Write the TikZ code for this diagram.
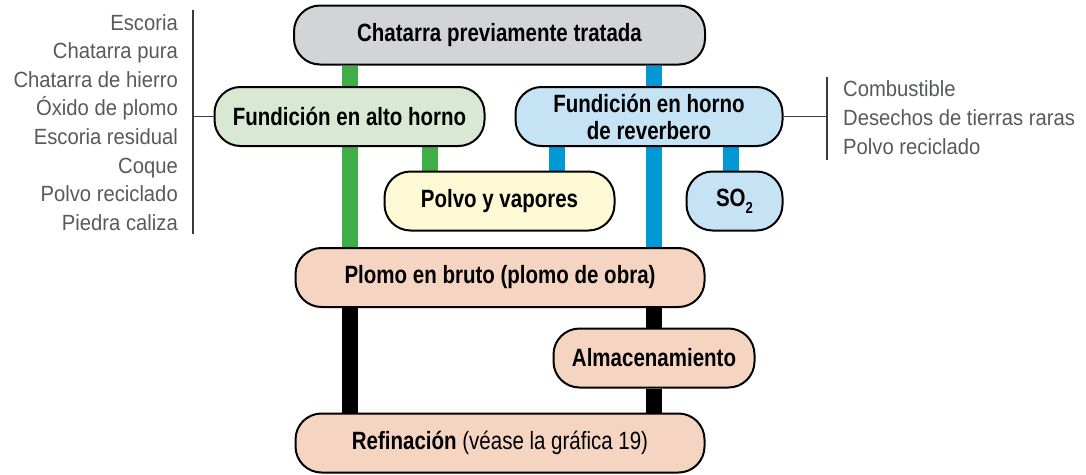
\documentclass[tikz,border=0pt]{standalone}
\usepackage{fontspec}
\setmainfont{Liberation Sans}
\newfontfamily\boxfont{Liberation Sans}[FakeStretch=0.82]
\newfontfamily\listfont{Liberation Sans}[FakeStretch=0.92]
\usepackage{tikz}
\usepackage{xcolor}

\definecolor{grisbox}{HTML}{D3D4D6}
\definecolor{verdebox}{HTML}{D9E8D3}
\definecolor{azulbox}{HTML}{C5E3F4}
\definecolor{amarillobox}{HTML}{FDF9D5}
\definecolor{salmonbox}{HTML}{F5D5C1}
\definecolor{verdebarra}{HTML}{3FAE49}
\definecolor{azulbarra}{HTML}{0099D6}
\definecolor{textgris}{HTML}{58595B}
\definecolor{llavegris}{HTML}{3A3A3A}

\pgfdeclarelayer{bg}
\pgfsetlayers{bg,main}

\begin{document}
\begin{tikzpicture}[x=1pt,y=-1pt,
    caja/.style={draw=black,line width=2pt,rounded corners=26pt,minimum height=59pt,inner sep=0pt,
      align=center,font=\boxfont\bfseries\fontsize{25}{27}\selectfont},
    lista/.style={text=textgris,inner sep=0pt,font=\listfont\fontsize{22}{24}\selectfont},
    barra/.style={line width=16pt},
    llave/.style={draw=llavegris,line width=1.3pt}]
  \useasboundingbox (0,0) rectangle (1086,474);

  \node [caja,fill=grisbox,minimum width=411pt] (chatarra) at (499.5,35) {Chatarra previamente tratada};
  \node [caja,fill=verdebox,minimum width=270pt] (alto) at (349.5,116.5) {Fundición en alto horno};
  \node [caja,fill=azulbox,minimum width=267pt] (reverbero) at (649,116.5) {Fundición en horno\\de reverbero};
  \node [caja,fill=amarillobox,minimum width=230pt] (polvo) at (499.5,201) {Polvo y vapores};
  \node [caja,fill=azulbox,minimum width=96pt] (so) at (734.5,201)
    {SO\raisebox{-0.55ex}{\fontsize{16}{16}\selectfont 2}};
  \node [caja,fill=salmonbox,minimum width=409pt] (plomo) at (500,277.5) {Plomo en bruto (plomo de obra)};
  \node [caja,fill=salmonbox,minimum width=201pt] (almacen) at (654,358) {Almacenamiento};
  \node [caja,fill=salmonbox,minimum width=409pt] (refinacion) at (500,443) {Refinación \mdseries(véase la gráfica 19)};

  \coordinate (xverde) at (350,0);
  \coordinate (xpolvo) at (430,0);
  \coordinate (xpolvoaz) at (557,0);
  \coordinate (xazul) at (654,0);
  \coordinate (xso) at (731,0);

  \begin{pgfonlayer}{bg}
    \draw [barra,verdebarra] (xverde |- chatarra.south) -- (xverde |- alto.north);
    \draw [barra,verdebarra] (xverde |- alto.south) -- (xverde |- plomo.north);
    \draw [barra,verdebarra] (xpolvo |- alto.south) -- (xpolvo |- polvo.north);
    \draw [barra,azulbarra] (xazul |- chatarra.south) -- (xazul |- reverbero.north);
    \draw [barra,azulbarra] (xazul |- reverbero.south) -- (xazul |- plomo.north);
    \draw [barra,azulbarra] (xpolvoaz |- reverbero.south) -- (xpolvoaz |- polvo.north);
    \draw [barra,azulbarra] (xso |- reverbero.south) -- (xso |- so.north);
    \draw [barra,black] (xverde |- plomo.south) -- (xverde |- refinacion.north);
    \draw [barra,black] (xazul |- plomo.south) -- (almacen.north);
    \draw [barra,black] (almacen.south) -- (xazul |- refinacion.north);
  \end{pgfonlayer}

  % entradas del alto horno
  \foreach \t [count=\i] in {Escoria,Chatarra pura,Chatarra de hierro,Óxido de plomo,
      Escoria residual,Coque,Polvo reciclado,Piedra caliza}
    \node [lista,anchor=base east] (izq\i) at (178,{30+28.6*(\i-1)}) {\t};
  \coordinate (izqarriba) at (193,10);
  \coordinate (izqabajo) at (193,234);
  \draw [llave] (izqarriba) -- (izqabajo);
  \draw [llave] (alto.west) -- (alto.west -| izqarriba);

  % entradas del horno de reverbero
  \foreach \t [count=\i] in {Combustible,Desechos de tierras raras,Polvo reciclado}
    \node [lista,anchor=base west] (der\i) at (843,{96.5+29.2*(\i-1)}) {\t};
  \coordinate (derarriba) at (827,77);
  \coordinate (derabajo) at (827,160);
  \draw [llave] (derarriba) -- (derabajo);
  \draw [llave] (reverbero.east) -- (reverbero.east -| derarriba);
\end{tikzpicture}
\end{document}
